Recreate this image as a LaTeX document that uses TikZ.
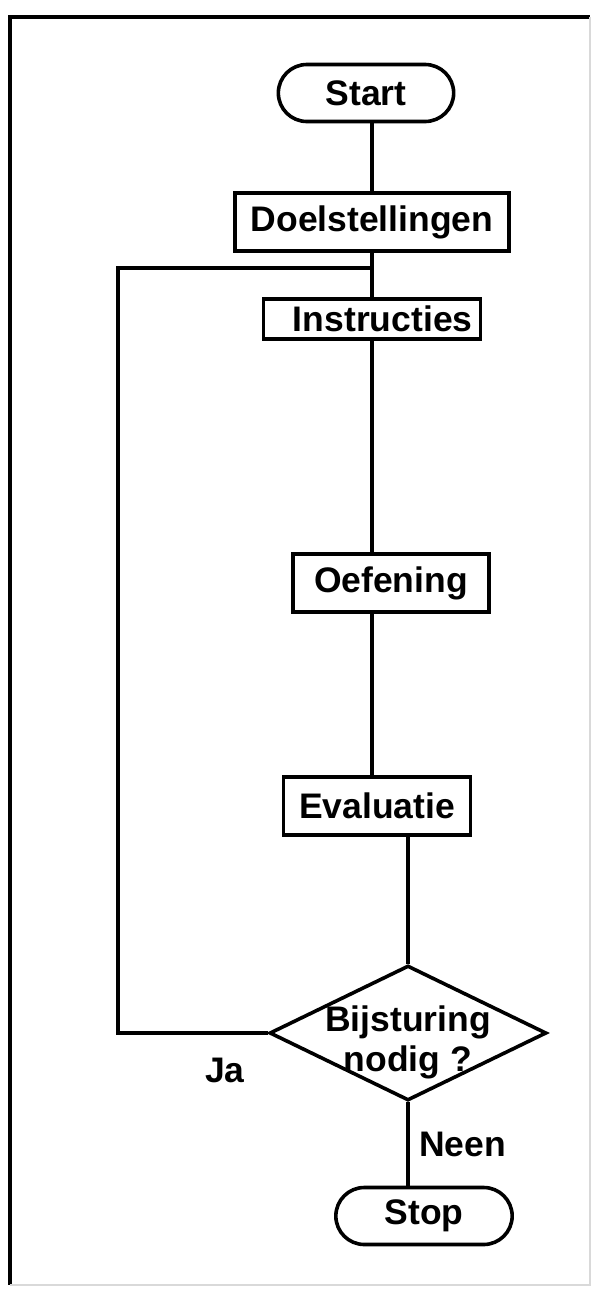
\documentclass[tikz,border=0pt]{standalone}
\usepackage{fontspec}
\setmainfont{Liberation Sans}
\usepackage{tikz}
\usetikzlibrary{positioning,shapes.misc,shapes.geometric}

\begin{document}
\begin{tikzpicture}[x=1pt,y=-1pt,line width=3.6pt,
	txt/.style={font=\bfseries\fontsize{35.5}{40}\selectfont},
	terminal/.style={txt,rounded rectangle,draw,minimum height=57pt},
	stepbox/.style={txt,rectangle,draw,minimum height=58pt,inner xsep=0pt},
	decision/.style={diamond,draw,minimum width=277pt,minimum height=135pt,inner sep=0pt}]
	\useasboundingbox (0,0) rectangle (601,1294);
	\draw (10,1285) -- (10,17) -- (590,17);
	\draw[black!15,line width=1.5pt] (590,17) -- (590,1285) -- (10,1285);
	\begin{scope}
		\node[terminal,minimum width=182pt] (start) at (366,93) {Start};
		\node[stepbox,minimum width=274pt] (doel) at (372,222) {Doelstellingen};
		\node[stepbox,minimum height=40pt,text width=201pt,align=right,inner xsep=8pt] (instr) at (372,319) {Instructies};
		\node[stepbox,minimum width=196pt] (oef) at (391,583) {Oefening};
		\node[stepbox,minimum width=187pt] (eval) at (377,806) {Evaluatie};
		\node[decision] (dec) at (408,1033) {};
		\node[txt,align=center,yshift=-9pt] (q) at (dec) {Bijsturing\\nodig ?};
		\node[terminal,minimum width=183pt] (stop) at (424,1216) {Stop};
		\node[txt] (ja) at (225,1070) {Ja};
	\end{scope}
	\coordinate (join) at (372,268);
	\coordinate (back) at (118,268);
	\draw (start.south -| doel.north) -- (doel.north);
	\draw (doel.south) -- (instr.north);
	\draw (instr.south) -- (instr.south |- oef.north);
	\draw (instr.south |- oef.south) -- (instr.south |- eval.north);
	\draw (dec.north |- eval.south) -- (dec.north);
	\draw (dec.south) -- node[txt,right=6pt] {Neen} (dec.south |- stop.north);
	\draw (dec.west) -| (back) -- (join);
\end{tikzpicture}
\end{document}
